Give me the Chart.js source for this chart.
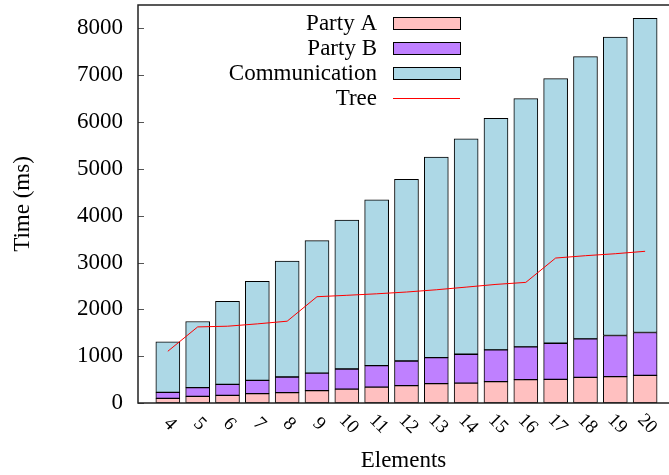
<!DOCTYPE html>
<html>
<head>
<meta charset="utf-8">
<script src="https://cdn.jsdelivr.net/npm/chart.js@4.4.0/dist/chart.umd.min.js"></script>
<style>
  body { margin: 0; background: #fff; }
  #wrap { width: 669px; height: 475px; }
</style>
</head>
<body>
<div id="wrap"><canvas id="timeChart" width="669" height="475"></canvas></div>
<script>
// values (ms)
const elements = [4, 5, 6, 7, 8, 9, 10, 11, 12, 13, 14, 15, 16, 17, 18, 19, 20];
const partyA = [98, 141, 163, 199, 220, 265, 297, 340, 370, 413, 426, 456, 499, 505, 548, 563, 591];
const partyB = [129, 186, 235, 285, 335, 372, 429, 459, 527, 557, 615, 678, 698, 771, 820, 878, 914];
const communication = [1081, 1414, 1774, 2116, 2474, 2831, 3182, 3538, 3879, 4280, 4599, 4943, 5302, 5651, 6030, 6374, 6709];
const tree = [1105, 1625, 1640, 1690, 1747, 2270, 2300, 2332, 2370, 2418, 2475, 2533, 2576, 3096, 3146, 3188, 3240];
const yTicks = [0, 1000, 2000, 3000, 4000, 5000, 6000, 7000, 8000];

const SERIF = "'Liberation Serif', 'Times New Roman', serif";

function points(values) {
    return elements.map((e, i) => ({ x: e, y: values[i] }));
}

// gnuplot-like frame, inner ticks, rotated x labels and the key
const framePlugin = {
    id: "frame",
    afterDraw(chart) {
        const { ctx, chartArea: a, scales: { x, y } } = chart;
        ctx.save();

        ctx.strokeStyle = "#555";
        ctx.lineWidth = 1;
        yTicks.forEach(v => {
            const py = Math.round(y.getPixelForValue(v)) + 0.5;
            ctx.beginPath();
            ctx.moveTo(a.left, py);
            ctx.lineTo(a.left + 6, py);
            ctx.stroke();
        });

        ctx.strokeStyle = "#222";
        ctx.lineWidth = 1.5;
        ctx.beginPath();
        ctx.moveTo(a.right, a.top);
        ctx.lineTo(a.left, a.top);
        ctx.lineTo(a.left, a.bottom);
        ctx.lineTo(a.right, a.bottom);
        ctx.stroke();

        ctx.fillStyle = "#000";
        ctx.font = "19px " + SERIF;
        ctx.textAlign = "center";
        ctx.textBaseline = "middle";
        elements.forEach(e => {
            ctx.save();
            ctx.translate(x.getPixelForValue(e) + 2, a.bottom + 21);
            ctx.rotate(Math.PI / 4);
            ctx.fillText(String(e), 0, 0);
            ctx.restore();
        });

        ctx.font = "23px " + SERIF;
        ctx.textAlign = "right";
        chart.data.datasets.forEach((ds, i) => {
            const ry = 23.5 + 25 * i;
            ctx.fillStyle = "#000";
            ctx.fillText(ds.label, 377, ry);
            if (ds.type === "line") {
                ctx.strokeStyle = ds.borderColor;
                ctx.lineWidth = 1;
                ctx.beginPath();
                ctx.moveTo(393, ry);
                ctx.lineTo(460, ry);
                ctx.stroke();
            } else {
                ctx.fillStyle = ds.backgroundColor;
                ctx.fillRect(393, ry - 6, 67, 12);
                ctx.strokeStyle = "#000";
                ctx.lineWidth = 1;
                ctx.strokeRect(393.5, ry - 6, 67, 12);
            }
        });

        ctx.restore();
    }
};

const barStyle = { borderColor: "#000", borderWidth: 1, borderSkipped: false, barThickness: 24, order: 1 };

new Chart(document.getElementById("timeChart"), {
    type: "bar",
    data: {
        datasets: [
            { label: "Party A", data: points(partyA), backgroundColor: "#ffc0c0", ...barStyle },
            { label: "Party B", data: points(partyB), backgroundColor: "#bf80ff", ...barStyle },
            { label: "Communication", data: points(communication), backgroundColor: "#add8e6", ...barStyle },
            {
                type: "line", label: "Tree", data: points(tree), stack: "tree", order: 0,
                borderColor: "#ff0000", borderWidth: 1, pointRadius: 0, tension: 0, fill: false
            }
        ]
    },
    options: {
        responsive: false,
        animation: false,
        layout: { padding: { top: 5, right: 0, bottom: 0, left: 0 } },
        plugins: { legend: { display: false }, tooltip: { enabled: false } },
        scales: {
            x: {
                type: "linear",
                stacked: true,
                offset: false,
                min: 3,
                max: 20.8,
                grid: { display: false },
                border: { display: false },
                ticks: { display: false },
                title: {
                    display: true, text: "Elements", color: "#000",
                    font: { family: SERIF, size: 23 }, padding: { top: 0, bottom: 0 }
                },
                afterFit(s) {
                    s.height = 72;
                    s.paddingLeft = 0; s.paddingRight = 0; s.paddingTop = 0; s.paddingBottom = 0;
                }
            },
            y: {
                stacked: true,
                min: 0,
                max: 8500,
                grid: { display: false, drawTicks: false },
                border: { display: false },
                ticks: {
                    padding: 15, color: "#000", autoSkip: false,
                    font: { family: SERIF, size: 23 },
                    callback: v => String(v)
                },
                afterBuildTicks(s) {
                    s.ticks = yTicks.map(v => ({ value: v }));
                },
                title: {
                    display: true, text: "Time (ms)", color: "#000",
                    font: { family: SERIF, size: 23 }, padding: { top: 9, bottom: 0 }
                },
                afterFit(s) {
                    s.width = 138;
                    s.paddingLeft = 0; s.paddingRight = 0; s.paddingTop = 0; s.paddingBottom = 0;
                }
            }
        }
    },
    plugins: [framePlugin]
});
</script>
</body>
</html>
